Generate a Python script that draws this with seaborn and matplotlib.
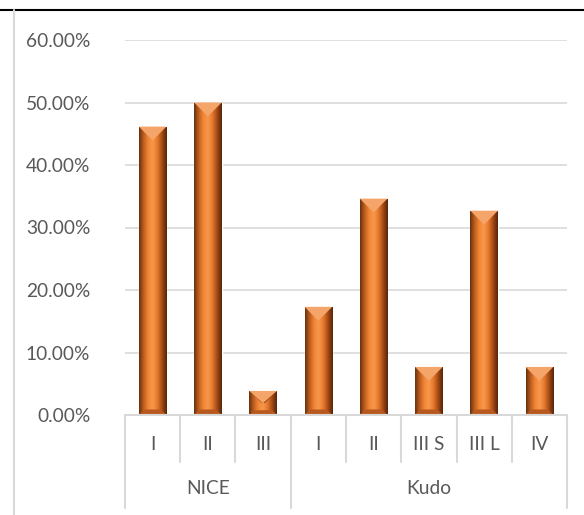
import matplotlib
matplotlib.use("Agg")
import matplotlib.pyplot as plt
import numpy as np
import pandas as pd
import seaborn as sns
from matplotlib.colors import LinearSegmentedColormap
from matplotlib.lines import Line2D
from matplotlib.patches import Polygon
from matplotlib.ticker import FuncFormatter

# data
groups = ["NICE", "NICE", "NICE", "Kudo", "Kudo", "Kudo", "Kudo", "Kudo"]
classes = ["I", "II", "III", "I", "II", "III S", "III L", "IV"]
shares = [0.4615, 0.5000, 0.0385, 0.1731, 0.3462, 0.0769, 0.3269, 0.0769]
group_names = ["NICE", "Kudo"]
y_ticks = [0.0, 0.1, 0.2, 0.3, 0.4, 0.5, 0.6]

TEXT = "#595959"
GRID = "#D9D9D9"
FS = 13.8

df = pd.DataFrame({"group": groups, "cls": classes, "share": shares})
df["key"] = [f"{g}_{c}" for g, c in zip(groups, classes)]

sns.set_theme(style="white")
plt.rcParams["font.family"] = ["Lato", "DejaVu Sans"]

W, H = 584, 515
fig = plt.figure(figsize=(W / 100, H / 100), dpi=100)
ax = fig.add_axes([125 / W, 100 / H, (567 - 125) / W, 375 / H])

sns.barplot(data=df, x="key", y="share", order=list(df["key"]), color="#F07E2A",
            width=0.5, ax=ax, zorder=2)

ax.set_ylim(0, 0.6)
ax.set_xlim(-0.5, len(df) - 0.5)
ax.set_yticks(y_ticks)
ax.yaxis.set_major_formatter(FuncFormatter(lambda v, _: f"{v * 100:.2f}%"))
ax.tick_params(axis="y", length=0, pad=25, labelsize=FS, labelcolor=TEXT)
ax.set_xticks([])
ax.set_xlabel("")
ax.set_ylabel("")
ax.grid(axis="y", color=GRID, lw=1.2, zorder=0)
for s in ax.spines.values():
    s.set_visible(False)

# bevelled bar look
fig.canvas.draw()
sx = ax.transData.transform((1, 0))[0] - ax.transData.transform((0, 0))[0]
sy = ax.transData.transform((0, 1))[1] - ax.transData.transform((0, 0))[1]
body = LinearSegmentedColormap.from_list(
    "body", ["#66300C", "#BE5E20", "#F28636", "#F7984C", "#E4772C", "#A04814", "#55240A"])
grad = np.linspace(0, 1, 256)[None, :]
for p in ax.patches:
    x0, y0 = p.get_x(), p.get_y()
    w, h = p.get_width(), p.get_height()
    x1, y1 = x0 + w, y0 + h
    im = ax.imshow(grad, cmap=body, aspect="auto", extent=(x0, x1, y0, y1),
                   zorder=3, interpolation="bicubic")
    im.set_clip_path(p)
    d = min(w / 2 * sx / sy, h / 2)
    dx = d * sy / sx
    xc = x0 + w / 2
    ax.add_patch(Polygon([(x0, y1), (xc, y1 - d), (x0 + dx, y1 - d)], closed=True,
                         fc="#C8642A", ec="none", zorder=4))
    ax.add_patch(Polygon([(x1, y1), (xc, y1 - d), (x1 - dx, y1 - d)], closed=True,
                         fc="#8A3C12", ec="none", zorder=4))
    ax.add_patch(Polygon([(x0, y1), (x1, y1), (xc, y1 - d)], closed=True,
                         fc="#F6A56A", ec="none", zorder=4))
    db = min(d * 0.4, h / 4)
    ax.add_patch(Polygon([(x0, y0), (x1, y0), (x1 - db * sy / sx, y0 + db),
                          (x0 + db * sy / sx, y0 + db)], closed=True,
                         fc="#B85A20", ec="none", zorder=4))

# two-level category axis drawn below the plot
def fx(px):
    return px / W


def fy(py):
    return 1 - py / H


n = len(df)
left_px, right_px = 125, 567
step = (right_px - left_px) / n
lines = []
lines.append(((left_px, left_px), (415, 508)))
lines.append(((right_px, right_px), (415, 508)))
for i in range(1, n):
    xp = left_px + i * step
    if groups[i] != groups[i - 1]:
        lines.append(((xp, xp), (415, 508)))
    else:
        lines.append(((xp, xp), (415, 462)))
lines.append(((left_px, right_px), (415, 415)))
for (xs, ys) in lines:
    fig.add_artist(Line2D([fx(v) for v in xs], [fy(v) for v in ys], color=GRID, lw=1.5))

for i, c in enumerate(classes):
    fig.text(fx(left_px + (i + 0.5) * step), fy(445), c, ha="center", va="center",
             fontsize=FS, color=TEXT)
for g in group_names:
    idx = [i for i, v in enumerate(groups) if v == g]
    mid = left_px + (min(idx) + max(idx) + 1) / 2 * step
    fig.text(fx(mid), fy(489), g, ha="center", va="center", fontsize=FS, color=TEXT)

# outer frame pieces
fig.add_artist(Line2D([0, 1], [fy(9.5), fy(9.5)], color="black", lw=1.5))
fig.add_artist(Line2D([fx(13.5), fx(13.5)], [fy(10), 0], color=GRID, lw=1.5))

fig.savefig("out.png", dpi=100)
